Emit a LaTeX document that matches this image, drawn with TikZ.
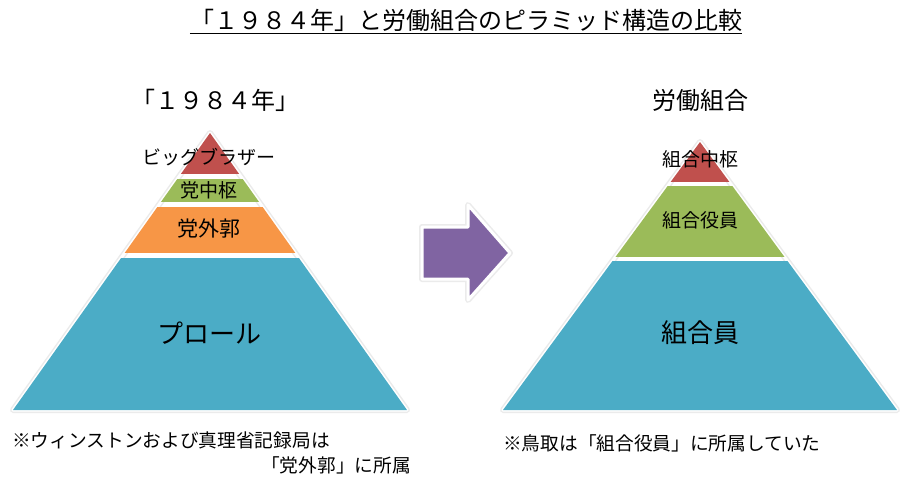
\documentclass[tikz,border=0pt]{standalone}
\usepackage{fontspec}
\setmainfont{Noto Sans CJK JP}
\usetikzlibrary{positioning}
\definecolor{pyrred}{HTML}{C0504D}
\definecolor{pyrgreen}{HTML}{9BBB59}
\definecolor{pyrorange}{HTML}{F79646}
\definecolor{pyrblue}{HTML}{4BACC6}
\definecolor{arrpurple}{HTML}{8064A2}

\begin{document}
\begin{tikzpicture}[
    x=1pt, y=-1pt,
    title/.style={inner sep=0pt, font=\fontsize{24}{27}\selectfont},
    lbl/.style={inner sep=0pt, font=\fontsize{19}{22}\selectfont},
    biglbl/.style={inner sep=0pt, font=\fontsize{26}{30}\selectfont},
    note/.style={inner sep=0pt, font=\fontsize{18.7}{22}\selectfont},
    glow/.style={draw=black!8, line width=6pt, line join=round},
    rim/.style={draw=white, line width=3pt, line join=round}
]
\useasboundingbox[fill=white] (0,0) rectangle (924,491);

% Title
\node[title] (maintitle) at (466,20) {「１９８４年」と労働組合のピラミッド構造の比較};
\draw[line width=1pt] ([yshift=-2pt]maintitle.south west) -- ([yshift=-2pt]maintitle.south east);

% Left pyramid
\node[title] (lefthead) at (215,100) {「１９８４年」};
\draw[glow] (210,133) -- (407,410) -- (13,410) -- cycle;
\draw[rim] (210,133) -- (407,410) -- (13,410) -- cycle;
\begin{scope}
    \clip (210,133) -- (407,410) -- (13,410) -- cycle;
    \foreach \ytop/\ybot/\col in {120/174/pyrred, 179/202/pyrgreen, 207/253/pyrorange, 258/420/pyrblue}
        \fill[\col] (0,\ytop) rectangle (924,\ybot);
\end{scope}
\node[lbl] (bigbro) at (209,157) {ビッグブラザー};
\node[lbl] (inner) at (209,190) {党中枢};
\node[biglbl, font=\fontsize{21}{24}\selectfont] (outer) at (209,229) {党外郭};
\node[biglbl] (proles) at (209,333) {プロール};

% Arrow
\draw[glow] (422,227) -- (468,227) -- (468,205) -- (510,253) -- (468,300) -- (468,279) -- (422,279) -- cycle;
\fill[arrpurple, rim] (422,227) -- (468,227) -- (468,205) -- (510,253) -- (468,300) -- (468,279) -- (422,279) -- cycle;

% Right pyramid
\node[title] (righthead) at (700,100) {労働組合};
\draw[glow] (700,142) -- (897,410) -- (503,410) -- cycle;
\draw[rim] (700,142) -- (897,410) -- (503,410) -- cycle;
\begin{scope}
    \clip (700,142) -- (897,410) -- (503,410) -- cycle;
    \foreach \ytop/\ybot/\col in {130/182/pyrred, 186/257/pyrgreen, 261/420/pyrblue}
        \fill[\col] (0,\ytop) rectangle (924,\ybot);
\end{scope}
\node[lbl] (unioncore) at (700,159) {組合中枢};
\node[lbl] (officers) at (700,220) {組合役員};
\node[biglbl] (members) at (700,333) {組合員};

% Notes
\node[note, anchor=west] (noteleft) at (12,440) {※ウィンストンおよび真理省記録局は};
\node[note, anchor=east] (noteleftb) at (411,465) {「党外郭」に所属};
\node[note, anchor=west] (noteright) at (503,443) {※鳥取は「組合役員」に所属していた};
\end{tikzpicture}
\end{document}
